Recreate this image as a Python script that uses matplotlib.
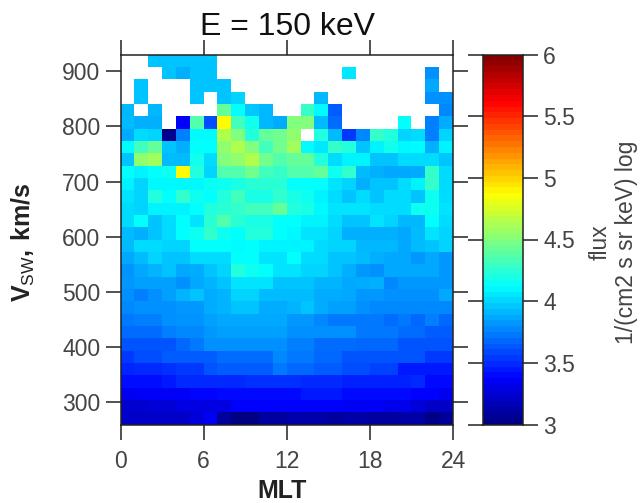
import numpy as np
import matplotlib
matplotlib.use("Agg")
import matplotlib.pyplot as plt
from matplotlib.colors import LinearSegmentedColormap

plt.rcParams['font.family'] = ['Liberation Sans', 'DejaVu Sans']
plt.rcParams['mathtext.fontset'] = 'custom'
plt.rcParams['mathtext.rm'] = 'Liberation Sans'
plt.rcParams['mathtext.bf'] = 'Liberation Sans:bold'

n = np.nan
# flux (log10), top row first, 24 MLT bins
row_00 = [n,n,3.96,3.96,3.96,3.96,3.96,n,n,n,n,n,n,n,n,n,n,n,n,n,n,n,n,n]
row_01 = [n,n,n,3.96,3.90,3.96,3.96,n,n,n,n,n,n,n,n,n,4.06,n,n,n,n,n,3.80,n]
row_02 = [n,3.96,n,n,n,3.96,3.96,3.96,n,n,n,n,n,n,n,n,n,n,n,n,n,n,3.87,n]
row_03 = [n,3.96,n,n,n,3.96,n,3.96,4.00,n,n,n,n,n,3.92,n,n,n,n,n,n,n,3.80,3.80]
row_04 = [3.92,n,3.92,n,n,n,n,4.42,4.13,3.97,3.92,n,n,4.28,4.12,3.65,n,n,n,n,n,n,n,3.78]
row_05 = [3.93,3.90,3.90,n,3.375,4.37,3.60,4.875,4.32,4.18,3.92,3.88,4.50,4.50,3.93,3.70,n,n,n,n,4.13,n,3.75,3.88]
row_06 = [3.88,4.03,4.00,3.05,3.75,4.12,4.12,4.65,4.50,4.22,4.42,4.46,4.55,n,4.22,3.93,3.55,3.78,4.28,4.22,4.00,4.03,3.75,4.00]
row_07 = [4.12,4.32,4.42,3.95,3.90,4.13,4.13,4.55,4.65,4.50,4.32,4.46,4.60,4.12,4.06,4.28,4.22,3.95,4.10,4.18,4.11,4.12,3.90,4.09]
row_08 = [3.95,4.55,4.60,3.93,3.93,4.18,4.02,4.50,4.55,4.65,4.46,4.37,4.42,4.42,4.22,4.03,4.10,4.10,3.96,3.96,4.02,4.02,4.02,3.96]
row_09 = [4.13,4.10,4.13,4.17,4.875,4.22,4.00,4.37,4.37,4.46,4.32,4.28,4.37,4.37,4.42,4.17,4.27,3.93,3.90,3.87,3.87,3.88,4.28,4.03]
row_10 = [4.10,4.00,4.11,4.11,4.11,4.11,4.15,4.17,4.20,4.25,4.25,4.25,4.13,4.13,4.13,4.05,4.00,3.90,3.95,3.95,4.03,4.09,4.28,4.03]
row_11 = [4.05,4.00,4.22,4.13,4.27,4.17,4.13,4.22,4.32,4.20,4.20,4.27,4.20,4.17,4.09,4.03,3.96,4.03,3.96,4.03,4.03,3.96,4.17,4.02]
row_12 = [4.03,4.00,4.09,4.09,4.09,4.13,4.22,4.25,4.27,4.32,4.32,4.42,4.22,4.20,4.11,4.05,4.05,4.05,4.02,4.02,4.03,4.17,4.17,4.05]
row_13 = [4.02,4.13,3.96,4.02,4.13,4.05,4.25,4.37,4.25,4.20,4.20,4.13,4.13,4.09,4.09,4.03,3.96,3.96,4.05,4.00,3.92,3.92,4.13,4.03]
row_14 = [3.93,3.90,3.96,4.02,4.13,4.17,4.27,4.17,4.13,4.22,4.22,4.13,4.11,4.05,4.05,4.00,3.90,3.90,3.90,3.90,3.87,3.93,4.05,4.00]
row_15 = [3.93,4.02,4.02,4.00,4.00,4.13,4.13,4.13,4.12,4.13,4.09,4.09,4.09,4.09,4.03,4.00,4.00,3.92,3.92,3.92,3.87,3.93,3.95,4.00]
row_16 = [3.87,3.93,4.00,3.96,3.96,4.03,4.03,4.03,4.13,4.13,4.05,4.05,4.13,4.02,4.02,3.96,3.96,3.93,3.90,3.87,3.87,3.83,3.87,3.83]
row_17 = [3.82,3.87,3.91,3.96,3.87,3.89,3.96,4.00,4.22,4.17,4.13,4.05,4.05,4.00,4.00,3.96,3.90,3.83,3.80,3.87,3.87,3.87,3.87,3.83]
row_18 = [3.83,3.85,3.85,3.85,3.80,3.87,3.91,3.96,4.05,4.05,4.05,3.96,3.96,3.96,3.91,3.91,3.87,3.89,3.90,3.78,3.83,3.83,3.83,3.83]
row_19 = [3.80,3.76,3.80,3.85,3.91,3.96,3.89,3.91,4.00,4.00,3.93,3.93,3.93,3.93,3.89,3.89,3.87,3.83,3.83,3.80,3.80,3.80,3.80,3.87]
row_20 = [3.78,3.80,3.80,3.80,3.83,3.83,3.89,3.91,3.96,3.96,3.89,3.89,3.91,3.96,3.89,3.85,3.85,3.80,3.78,3.78,3.78,3.78,3.78,3.78]
row_21 = [3.73,3.75,3.75,3.80,3.82,3.82,3.85,3.87,3.87,3.87,3.87,3.87,3.83,3.83,3.78,3.73,3.73,3.73,3.73,3.70,3.73,3.68,3.75,3.68]
row_22 = [3.70,3.70,3.70,3.75,3.78,3.78,3.83,3.85,3.85,3.85,3.85,3.85,3.80,3.80,3.80,3.80,3.80,3.73,3.73,3.73,3.70,3.70,3.65,3.65]
row_23 = [3.63,3.63,3.63,3.63,3.68,3.73,3.80,3.80,3.80,3.80,3.80,3.80,3.75,3.75,3.70,3.70,3.70,3.68,3.68,3.68,3.63,3.63,3.63,3.63]
row_24 = [3.55,3.60,3.60,3.65,3.65,3.65,3.65,3.70,3.70,3.70,3.70,3.78,3.73,3.73,3.68,3.68,3.63,3.63,3.63,3.63,3.63,3.63,3.55,3.55]
row_25 = [3.49,3.50,3.50,3.52,3.55,3.55,3.63,3.65,3.65,3.65,3.65,3.73,3.68,3.68,3.65,3.65,3.60,3.60,3.57,3.57,3.45,3.45,3.45,3.45]
row_26 = [3.42,3.42,3.42,3.45,3.50,3.50,3.50,3.50,3.50,3.52,3.52,3.52,3.52,3.50,3.50,3.50,3.47,3.47,3.47,3.47,3.47,3.50,3.41,3.41]
row_27 = [3.33,3.36,3.36,3.36,3.36,3.39,3.39,3.41,3.41,3.41,3.41,3.41,3.41,3.45,3.45,3.45,3.41,3.41,3.41,3.41,3.41,3.375,3.375,3.33]
row_28 = [3.24,3.24,3.26,3.26,3.30,3.30,3.30,3.30,3.375,3.375,3.375,3.375,3.375,3.375,3.375,3.375,3.36,3.36,3.36,3.32,3.32,3.28,3.22,3.22]
row_29 = [3.22,3.22,3.22,3.22,3.22,3.28,3.34,3.09,3.02,3.02,3.10,3.10,3.13,3.13,3.12,3.10,3.12,3.12,3.10,3.10,3.12,3.12,3.03,3.08]

flux_rows = [row_00, row_01, row_02, row_03, row_04, row_05, row_06, row_07, row_08, row_09,
             row_10, row_11, row_12, row_13, row_14, row_15, row_16, row_17, row_18, row_19,
             row_20, row_21, row_22, row_23, row_24, row_25, row_26, row_27, row_28, row_29]

x_ticks = [0, 6, 12, 18, 24]
y_ticks = [300, 400, 500, 600, 700, 800, 900]
cb_ticks = [3, 3.5, 4, 4.5, 5, 5.5, 6]
cb_labels = ['3', '3.5', '4', '4.5', '5', '5.5', '6']
ramp = ['#00007F', 'blue', '#007FFF', 'cyan', '#7FFF7F', 'yellow', '#FF7F00', 'red', '#7F0000']

W, H = 640, 503
edge = '#222222'
text_gray = '#444444'
cmap = LinearSegmentedColormap.from_list('ramp', ramp, N=256)

fig = plt.figure(figsize=(W / 100, H / 100), dpi=100)
ax = fig.add_axes([120.5 / W, 1 - 424.5 / H, 332.5 / W, 370 / H])
cax = fig.add_axes([483 / W, 1 - 424.5 / H, 40 / W, 370 / H])

flux = np.ma.masked_invalid(np.array(flux_rows)[::-1])
x_edges = np.arange(25)
y_edges = np.linspace(260, 930, 31)
ax.pcolormesh(x_edges, y_edges, flux, cmap=cmap, vmin=3, vmax=6)
ax.set_xlim(0, 24)
ax.set_ylim(260, 930)
ax.set_xticks(x_ticks)
ax.set_yticks(y_ticks)
ax.tick_params(length=10.5, width=1.1, color=edge, labelsize=16.5, labelcolor=text_gray,
               top=True, right=True)
ax.tick_params(axis='y', pad=4)
ax.tick_params(axis='x', pad=8)

levels = np.linspace(3, 6, 65).reshape(-1, 1)
cax.pcolormesh([0, 1], levels.ravel(), (levels[:-1] + levels[1:]) / 2, cmap=cmap, vmin=3, vmax=6)
cax.set_xticks([])
cax.set_ylim(3, 6)
cax.set_yticks(cb_ticks)
cax.set_yticklabels(cb_labels)
cax.tick_params(length=10.5, width=1.1, color=edge, labelsize=16.5, labelcolor=text_gray,
                left=True, right=True, labelleft=False, labelright=True, pad=4)

for a in (ax, cax):
    for s in a.spines.values():
        s.set_linewidth(1.1)
        s.set_color(edge)

fig.text(287 / W, 1 - 35 / H, 'E = 150 keV', fontsize=23, color='#111111', ha='center', va='baseline')
fig.text(282 / W, 1 - 498 / H, 'MLT', fontsize=18, fontweight='bold', color='#222222',
         ha='center', va='baseline')
fig.text(23 / W, 1 - 242 / H, r'$\mathbf{V}_{\mathrm{SW}}\mathbf{,\,km/s}$', rotation=90, fontsize=18,
         color='#222222', ha='center', va='center')
fig.text(600 / W, 1 - 242 / H, 'flux', rotation=90, fontsize=16.5, color=text_gray,
         ha='center', va='center')
fig.text(627 / W, 1 - 242 / H, '1/(cm2 s sr keV) log', rotation=90, fontsize=16.5,
         color=text_gray, ha='center', va='center')

fig.savefig('out.png', dpi=100)
